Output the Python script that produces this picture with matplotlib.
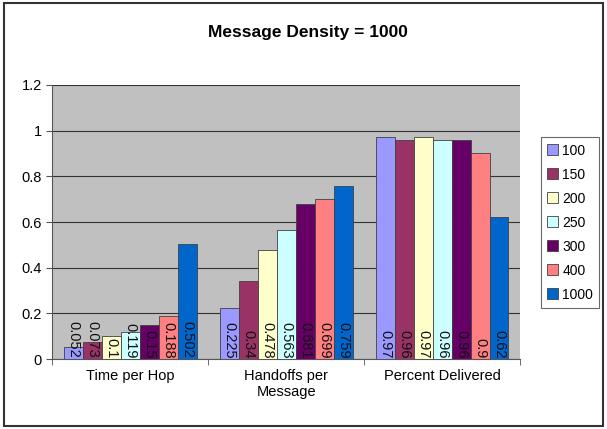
import matplotlib.pyplot as plt
import numpy as np

plt.rcParams['font.family'] = ['Liberation Sans', 'DejaVu Sans']

categories = ['Time per Hop', 'Handoffs per\nMessage', 'Percent Delivered']
series_names = ['100', '150', '200', '250', '300', '400', '1000']
colors = ['#9999FF', '#993366', '#FFFFCC', '#CCFFFF', '#660066', '#FF8080', '#0066CC']

values = {
    '100': [0.052, 0.225, 0.97],
    '150': [0.073, 0.34, 0.96],
    '200': [0.1, 0.478, 0.97],
    '250': [0.119, 0.563, 0.96],
    '300': [0.15, 0.681, 0.96],
    '400': [0.188, 0.699, 0.9],
    '1000': [0.502, 0.759, 0.62],
}

fig = plt.figure(figsize=(6.07, 4.29), dpi=100)
ax = fig.add_axes([0.086, 0.163, 0.771, 0.639])
ax.set_facecolor('#C0C0C0')

x = np.arange(len(categories))
n = len(series_names)
width = 0.85 / n

for i, (name, col) in enumerate(zip(series_names, colors)):
    pos = x - 0.425 + width * (i + 0.5)
    vals = values[name]
    ax.bar(pos, vals, width, color=col, edgecolor='#404040', linewidth=0.6,
           label=name, zorder=3)
    for px, v in zip(pos, vals):
        ax.text(px, 0.004, f'{v:g}', rotation=270, ha='center', va='bottom',
                fontsize=10.5, color='#111111', zorder=4)

ax.set_xlim(-0.5, 2.5)
ax.set_ylim(0, 1.2)
ax.set_yticks(np.arange(0, 1.21, 0.2))
ax.set_yticklabels(['0', '0.2', '0.4', '0.6', '0.8', '1', '1.2'])
ax.yaxis.grid(True, color='#333333', linewidth=0.8, zorder=0)
ax.set_axisbelow(True)

ax.set_xticks(x)
ax.set_xticklabels(categories, fontsize=10.5)
ax.tick_params(axis='x', length=0, pad=7)
ax.set_xticks([-0.5, 0.5, 1.5, 2.5], minor=True)
ax.tick_params(axis='x', which='minor', length=4, color='#555555')
ax.tick_params(axis='y', labelsize=10.5, length=4, color='#555555')

for side in ['top', 'right']:
    ax.spines[side].set_visible(False)
for side in ['left', 'bottom']:
    ax.spines[side].set_color('#555555')

fig.text(0.507, 0.925, 'Message Density = 1000', ha='center', va='center',
         fontsize=12.5, fontweight='bold')

leg = fig.legend(loc='upper left', bbox_to_anchor=(0.891, 0.68),
                 fontsize=10, frameon=True, fancybox=False, edgecolor='#444444',
                 handlelength=0.8, handleheight=0.8, handletextpad=0.3,
                 borderpad=0.45, labelspacing=0.72, borderaxespad=0)
leg.get_frame().set_linewidth(0.8)

# outer border around the whole chart
fig.patches.append(plt.Rectangle((0.007, 0.007), 0.986, 0.986, transform=fig.transFigure,
                                 fill=False, edgecolor='#333333', linewidth=1.5))

fig.savefig('out.png', dpi=100)
